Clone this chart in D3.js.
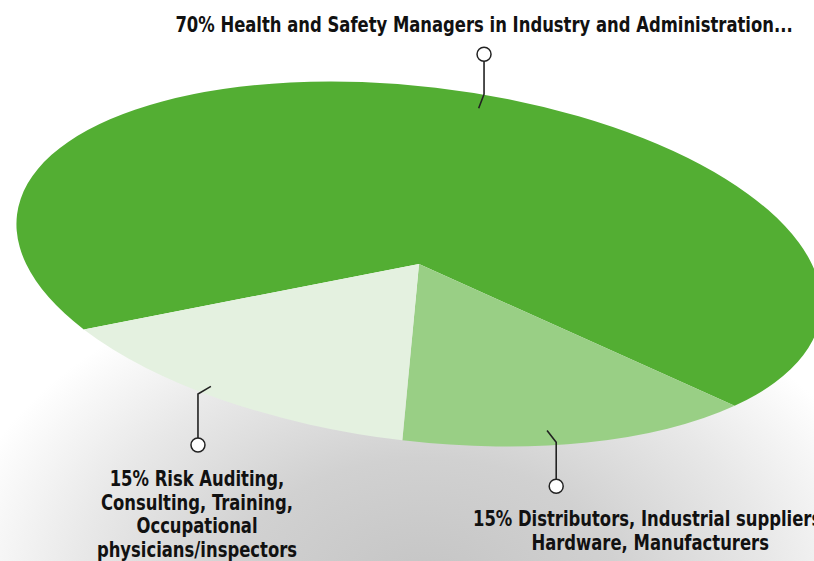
<!DOCTYPE html>
<html>
<head>
<meta charset="utf-8">
<script src="https://cdn.jsdelivr.net/npm/d3@7"></script>
<style>
  html, body { margin: 0; padding: 0; background: #fff; }
  svg { display: block; }
  .lbl { font-family: "Liberation Sans Narrow", "Arial Narrow", "DejaVu Sans Condensed", sans-serif; font-weight: bold; font-size: 22px; fill: #111; }
</style>
</head>
<body>
<svg id="chart"></svg>
<script>
// data
const shares = [70, 15, 15];
const labelLines = [
    ["70% Health and Safety Managers in Industry and Administration..."],
    ["15% Distributors, Industrial suppliers,", "Hardware, Manufacturers"],
    ["15% Risk Auditing,", "Consulting, Training,", "Occupational", "physicians/inspectors"]
];
const sliceColors = ["#53ae33", "#99cf85", "#e4f1e0"];

let w = 814, h = 561;
let svg = d3.select("#chart").attr("width", w).attr("height", h);

// tilted pie geometry
let cx = 419, cy = 264, rx = 405, ry = 177, tilt = 7;
let startDeg = 233.3;

// soft grey shadow underneath
let defs = svg.append("defs");
let grad = defs.append("radialGradient").attr("id", "shadow")
    .attr("cx", 0.5).attr("cy", 0.5).attr("r", 0.5);
[[0, "#c4c4c4"], [0.4, "#d1d1d1"], [0.72, "#e8e8e8"], [1, "#ffffff"]].forEach(s => {
    grad.append("stop").attr("offset", s[0]).attr("stop-color", s[1]);
});
svg.append("rect").attr("width", w).attr("height", h).attr("fill", "#fff");
svg.append("ellipse")
    .attr("cx", 425).attr("cy", 590)
    .attr("rx", 480).attr("ry", 330)
    .attr("fill", "url(#shadow)");

let pie = d3.pie()
    .sort(null)
    .value(d => d)
    .startAngle(startDeg * Math.PI / 180)
    .endAngle(startDeg * Math.PI / 180 + 2 * Math.PI);

let arc = d3.arc().innerRadius(0).outerRadius(rx);
let arcs = pie(shares);

let g = svg.append("g")
    .attr("transform", `translate(${cx},${cy}) rotate(${tilt}) scale(1,${ry / rx})`);

g.selectAll("path")
    .data(arcs)
    .enter()
    .append("path")
    .attr("d", arc)
    .attr("fill", (d, i) => sliceColors[i]);

// map a point of the flat pie to the screen
function toScreen(a, k) {
    let x = rx * k * Math.sin(a);
    let y = -rx * k * Math.cos(a) * ry / rx;
    let t = tilt * Math.PI / 180;
    return [cx + x * Math.cos(t) - y * Math.sin(t), cy + x * Math.sin(t) + y * Math.cos(t)];
}

// leader layout
let pinShift = [6.9, 4.4, 3.4];   // degrees past slice middle
let pinDepth = [0.92, 0.92, 0.955];
let pinDy = [-40, 44, 51];
let labelDx = [0, 94, -1];
let labelDy = [-22, 40, 41];
let squeeze = 0.83;

arcs.forEach((d, i) => {
    let mid = (d.startAngle + d.endAngle) / 2 + pinShift[i] * Math.PI / 180;
    let p = toScreen(mid, pinDepth[i]);
    let dx = p[0] - cx, dy = p[1] - cy;
    let len = Math.sqrt(dx * dx + dy * dy);
    let elbow = [p[0] + 15 * dx / len, p[1] + 15 * dy / len];
    let pin = [elbow[0], elbow[1] + pinDy[i]];

    svg.append("path")
        .attr("d", d3.line()([p, elbow, pin]))
        .attr("fill", "none")
        .attr("stroke", "#222")
        .attr("stroke-width", 1.6);

    svg.append("circle")
        .attr("cx", pin[0]).attr("cy", pin[1]).attr("r", 7)
        .attr("fill", "#fff")
        .attr("stroke", "#222")
        .attr("stroke-width", 1.5);

    let txt = svg.append("text")
        .attr("class", "lbl")
        .attr("text-anchor", "middle")
        .attr("transform", `translate(${pin[0] + labelDx[i]},${pin[1] + labelDy[i]}) scale(${squeeze},1)`);
    labelLines[i].forEach((line, j) => {
        txt.append("tspan")
            .attr("x", 0)
            .attr("dy", j === 0 ? 0 : 23.6)
            .text(line);
    });
});
</script>
</body>
</html>
